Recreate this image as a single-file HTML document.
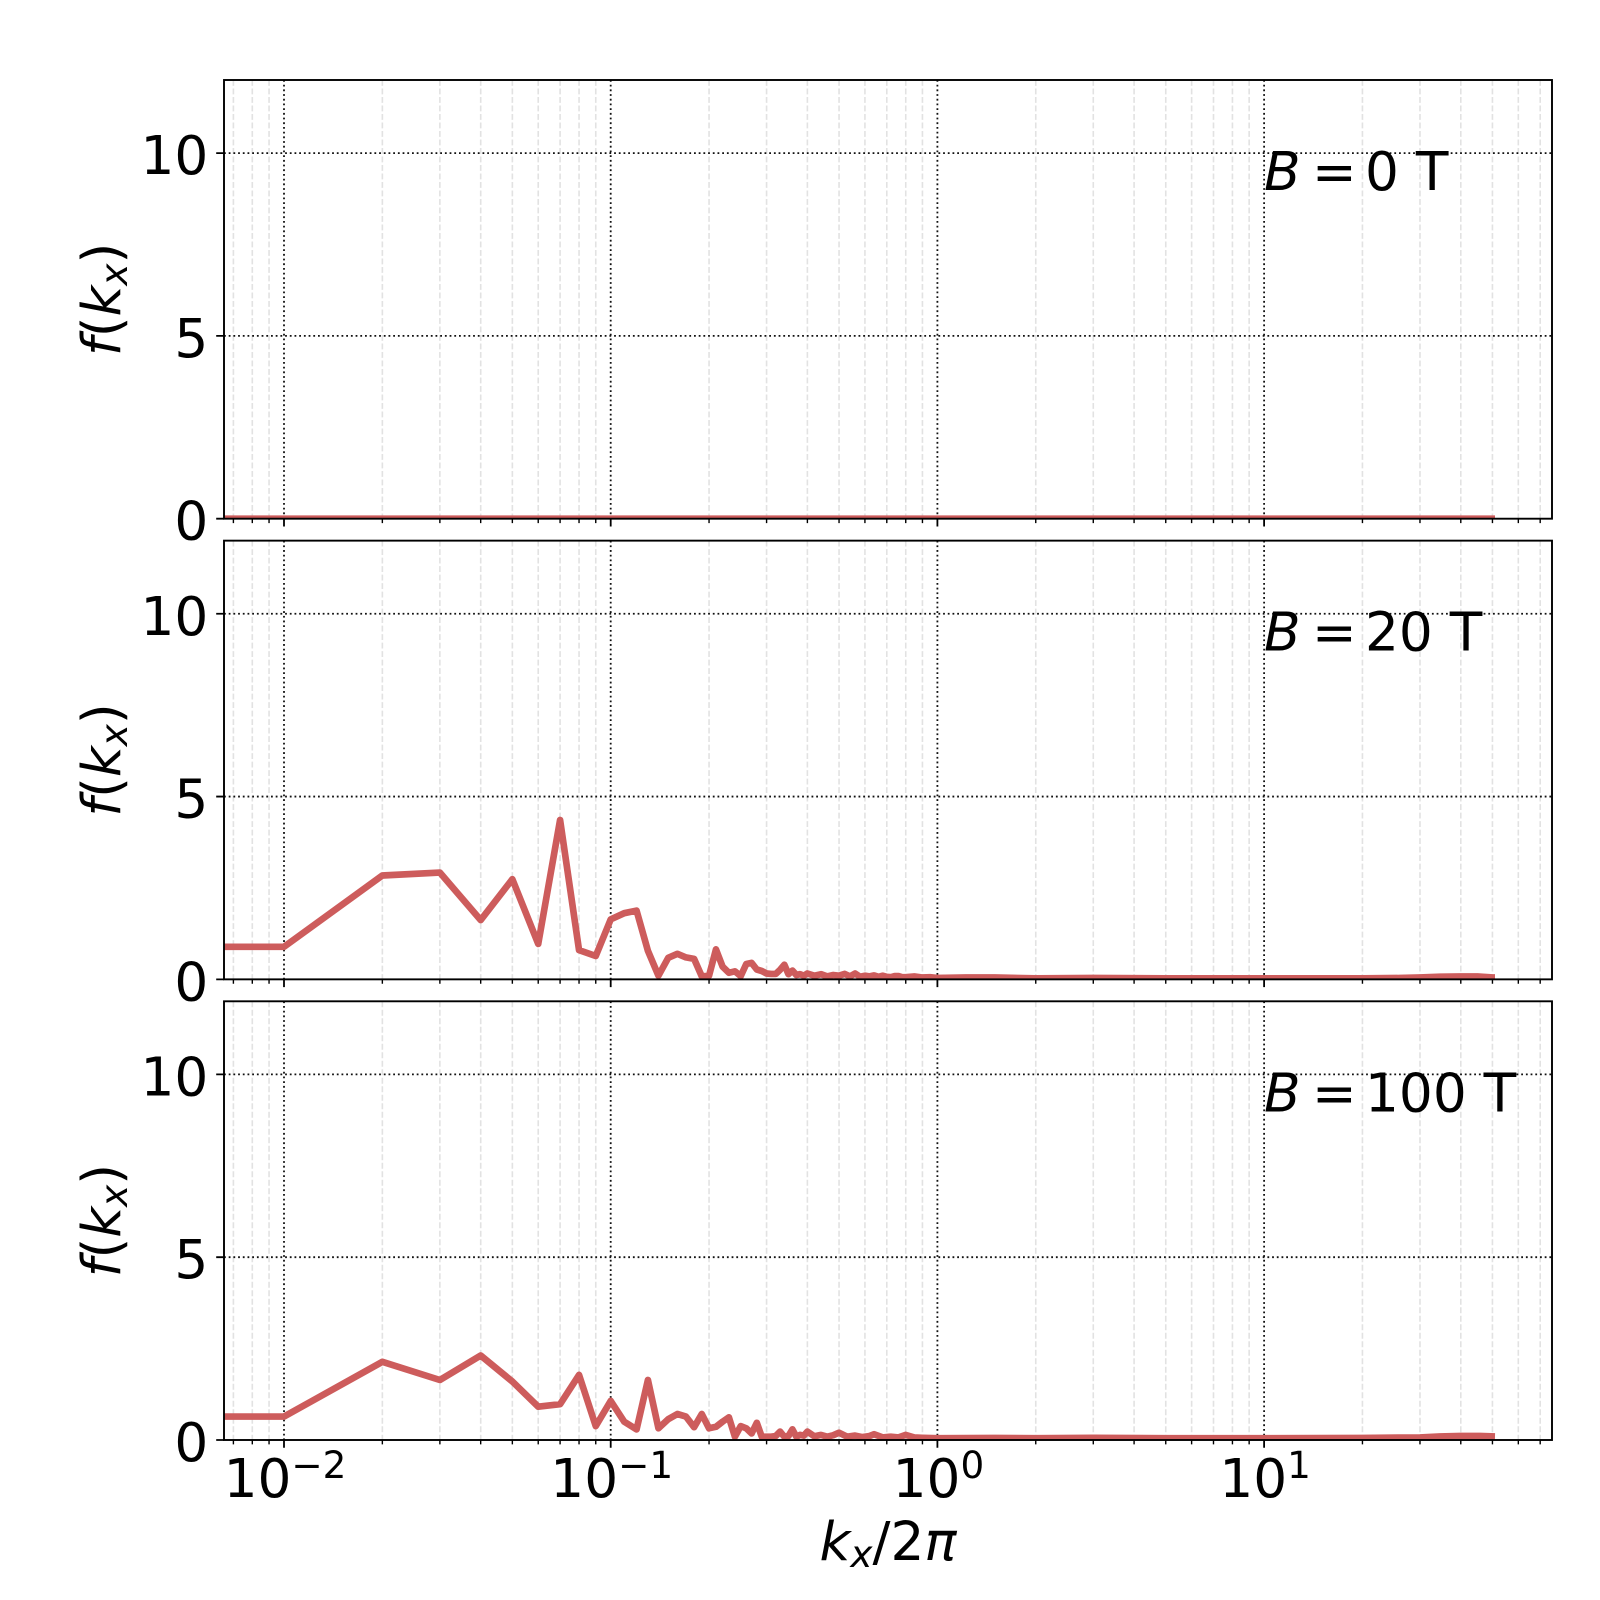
<!DOCTYPE html>
<html><head><meta charset="utf-8"><style>
html,body{margin:0;padding:0;background:#fff;}
svg{display:block;}
text{font-family:"DejaVu Sans","Liberation Sans",sans-serif;font-size:53.3px;fill:#000;}
</style></head><body>
<svg width="1600" height="1600" viewBox="0 0 1600 1600" xmlns="http://www.w3.org/2000/svg">
<defs>
<clipPath id="c1"><rect x="224" y="80" width="1328" height="438.7"/></clipPath>
<clipPath id="c2"><rect x="224" y="540.65" width="1328" height="438.7"/></clipPath>
<clipPath id="c3"><rect x="224" y="1001.3" width="1328" height="438.7"/></clipPath>
<g id="grid">
<path d="M233.4 0V438.7M252.3 0V438.7M269.05 0V438.7M382.35 0V438.7M439.88 0V438.7M480.69 0V438.7M512.35 0V438.7M538.22 0V438.7M560.09 0V438.7M579.04 0V438.7M595.75 0V438.7M709.05 0V438.7M766.58 0V438.7M807.39 0V438.7M839.05 0V438.7M864.92 0V438.7M886.79 0V438.7M905.74 0V438.7M922.45 0V438.7M1035.75 0V438.7M1093.28 0V438.7M1134.09 0V438.7M1165.75 0V438.7M1191.62 0V438.7M1213.49 0V438.7M1232.44 0V438.7M1249.15 0V438.7M1362.45 0V438.7M1419.98 0V438.7M1460.79 0V438.7M1492.45 0V438.7M1518.32 0V438.7M1540.19 0V438.7" stroke="#e2e2e2" stroke-width="1.6" stroke-dasharray="5.9,2.6" fill="none"/>
<path d="M284 0V438.7M610.7 0V438.7M937.4 0V438.7M1264.1 0V438.7M224 255.9H1552M224 73.1H1552" stroke="#111" stroke-width="1.8" stroke-dasharray="1.8,2.9" fill="none"/>
</g>
<g id="frame">
<rect x="224" y="0" width="1328" height="438.7" fill="none" stroke="#000" stroke-width="1.9"/>
<path d="M216.2 438.7H224M216.2 255.9H224M216.2 73.1H224M284 438.7v7.8M610.7 438.7v7.8M937.4 438.7v7.8M1264.1 438.7v7.8" stroke="#000" stroke-width="1.8" fill="none"/>
<path d="M233.4 438.7v4.4M252.3 438.7v4.4M269.05 438.7v4.4M382.35 438.7v4.4M439.88 438.7v4.4M480.69 438.7v4.4M512.35 438.7v4.4M538.22 438.7v4.4M560.09 438.7v4.4M579.04 438.7v4.4M595.75 438.7v4.4M709.05 438.7v4.4M766.58 438.7v4.4M807.39 438.7v4.4M839.05 438.7v4.4M864.92 438.7v4.4M886.79 438.7v4.4M905.74 438.7v4.4M922.45 438.7v4.4M1035.75 438.7v4.4M1093.28 438.7v4.4M1134.09 438.7v4.4M1165.75 438.7v4.4M1191.62 438.7v4.4M1213.49 438.7v4.4M1232.44 438.7v4.4M1249.15 438.7v4.4M1362.45 438.7v4.4M1419.98 438.7v4.4M1460.79 438.7v4.4M1492.45 438.7v4.4M1518.32 438.7v4.4M1540.19 438.7v4.4" stroke="#000" stroke-width="1.4" fill="none"/>
</g>
</defs>

<!-- grids -->
<use href="#grid" transform="translate(0,80)"/>
<use href="#grid" transform="translate(0,540.65)"/>
<use href="#grid" transform="translate(0,1001.3)"/>

<!-- data -->
<g fill="none" stroke="#CD5C5C" stroke-width="6.67" stroke-linejoin="round">
<polyline clip-path="url(#c1)" points="220,518.7 1495,518.7"/>
<polyline clip-path="url(#c2)" points="220,946.8 284,946.8 382.35,875.5 439.88,872.6 480.69,920.1 512.35,879.2 538.22,943.9 560.09,820.0 579.04,950.1 595.75,956.0 610.7,919.4 624.22,913.2 636.57,910.6 647.92,950.8 658.44,975.7 668.23,957.8 677.39,953.8 685.99,957.4 694.10,958.9 701.77,976.4 709.05,975.7 715.97,949.4 722.57,966.6 728.88,972.8 734.92,971.3 740.71,976.1 746.27,964.0 751.62,962.9 756.79,969.5 761.77,971.0 766.58,973.5 771.23,973.9 775.73,973.9 780.10,969.8 784.34,964.7 788.45,974.2 792.44,970.6 796.33,975.0 800.11,974.2 803.80,975.7 807.39,973.5 814.3,975.7 821.0,974.2 827.3,976.4 833.3,975.0 839.05,975.7 844.6,973.9 850.0,976.4 855.1,973.5 860.1,976.8 864.9,975.7 869.5,976.4 874.1,975.4 878.5,976.8 882.7,975.7 886.8,976.8 890.8,977.2 894.7,976.1 898.5,976.1 902.2,977.2 905.7,977.2 914.3,976.4 922.5,977.5 930.1,977.2 937.4,977.9 966,977.5 995.0,977.5 1035.8,978.3 1093.3,977.9 1165.8,978.3 1264.1,978.3 1362.5,978.3 1400,978.0 1420,977.5 1440,976.7 1460.8,976.4 1477.5,976.4 1492.5,977.5 1495,977.5"/>
<polyline clip-path="url(#c3)" points="220,1416.6 284,1416.6 382.35,1361.8 439.88,1380.0 480.69,1355.5 512.35,1381.5 538.22,1406.7 560.09,1404.2 579.04,1374.9 595.75,1426.1 610.7,1400.9 624.22,1421.7 636.57,1429.4 647.92,1380.0 658.44,1428.3 668.23,1419.2 677.39,1414.0 685.99,1416.6 694.10,1427.2 701.77,1414.0 709.05,1428.3 715.97,1426.8 722.57,1421.7 728.88,1417.3 734.92,1436.7 740.71,1426.1 746.27,1428.3 751.62,1433.4 756.79,1422.8 761.77,1436.7 766.58,1436.7 771.23,1436.7 775.73,1436.0 780.10,1431.6 784.34,1436.7 788.45,1436.0 792.44,1429.4 796.33,1436.7 800.11,1434.9 803.80,1435.6 807.39,1431.6 814.3,1436.3 821.0,1434.9 827.3,1436.7 833.3,1435.2 839.05,1432.7 847.3,1436.7 855.1,1435.6 862.5,1437.1 869.6,1436.0 874.1,1434.2 882.7,1437.4 890.8,1436.7 898.5,1437.4 905.7,1434.9 914.3,1437.4 922.5,1437.8 937.4,1438.2 995,1438.0 1035.8,1438.2 1093.3,1437.8 1165.8,1438.2 1264.1,1438.2 1362.5,1438.0 1420,1437.4 1440,1436.4 1460.8,1436.0 1480,1436.0 1495,1436.4"/>
</g>

<!-- frames -->
<use href="#frame" transform="translate(0,80)"/>
<use href="#frame" transform="translate(0,540.65)"/>
<use href="#frame" transform="translate(0,1001.3)"/>

<!-- y tick labels -->
<g text-anchor="end">
<text x="208.3" y="174.1">10</text>
<text x="208.3" y="356.9">5</text>
<text x="208.3" y="539.7">0</text>
<text x="208.3" y="634.75">10</text>
<text x="208.3" y="817.55">5</text>
<text x="208.3" y="1000.35">0</text>
<text x="208.3" y="1095.4">10</text>
<text x="208.3" y="1278.2">5</text>
<text x="208.3" y="1461">0</text>
</g>

<!-- y labels -->
<text transform="translate(120,299.35) rotate(-90)" text-anchor="middle"><tspan font-style="italic">f</tspan>(<tspan font-style="italic">k</tspan><tspan font-style="italic" font-size="37.3" dy="7">x</tspan><tspan dy="-7">)</tspan></text>
<text transform="translate(120,760) rotate(-90)" text-anchor="middle"><tspan font-style="italic">f</tspan>(<tspan font-style="italic">k</tspan><tspan font-style="italic" font-size="37.3" dy="7">x</tspan><tspan dy="-7">)</tspan></text>
<text transform="translate(120,1220.65) rotate(-90)" text-anchor="middle"><tspan font-style="italic">f</tspan>(<tspan font-style="italic">k</tspan><tspan font-style="italic" font-size="37.3" dy="7">x</tspan><tspan dy="-7">)</tspan></text>

<!-- annotations -->
<text x="1264" y="190" font-style="italic">B</text>
<text x="1312" y="190">=</text>
<text x="1365" y="190" xml:space="preserve">0 T</text>
<text x="1264" y="650.65" font-style="italic">B</text>
<text x="1312" y="650.65">=</text>
<text x="1365" y="650.65" xml:space="preserve">20 T</text>
<text x="1264" y="1111.3" font-style="italic">B</text>
<text x="1312" y="1111.3">=</text>
<text x="1365" y="1111.3" xml:space="preserve">100 T</text>

<!-- x tick labels -->
<g text-anchor="middle">
<text x="285" y="1497">10<tspan font-size="37.3" dy="-19">−2</tspan></text>
<text x="611.7" y="1497">10<tspan font-size="37.3" dy="-19">−1</tspan></text>
<text x="938.4" y="1497">10<tspan font-size="37.3" dy="-19">0</tspan></text>
<text x="1265.1" y="1497">10<tspan font-size="37.3" dy="-19">1</tspan></text>
</g>

<!-- x label -->
<text x="888" y="1560" text-anchor="middle"><tspan font-style="italic">k</tspan><tspan font-style="italic" font-size="37.3" dy="7">x</tspan><tspan dy="-7">/2</tspan><tspan font-style="italic">π</tspan></text>
</svg>
</body></html>
